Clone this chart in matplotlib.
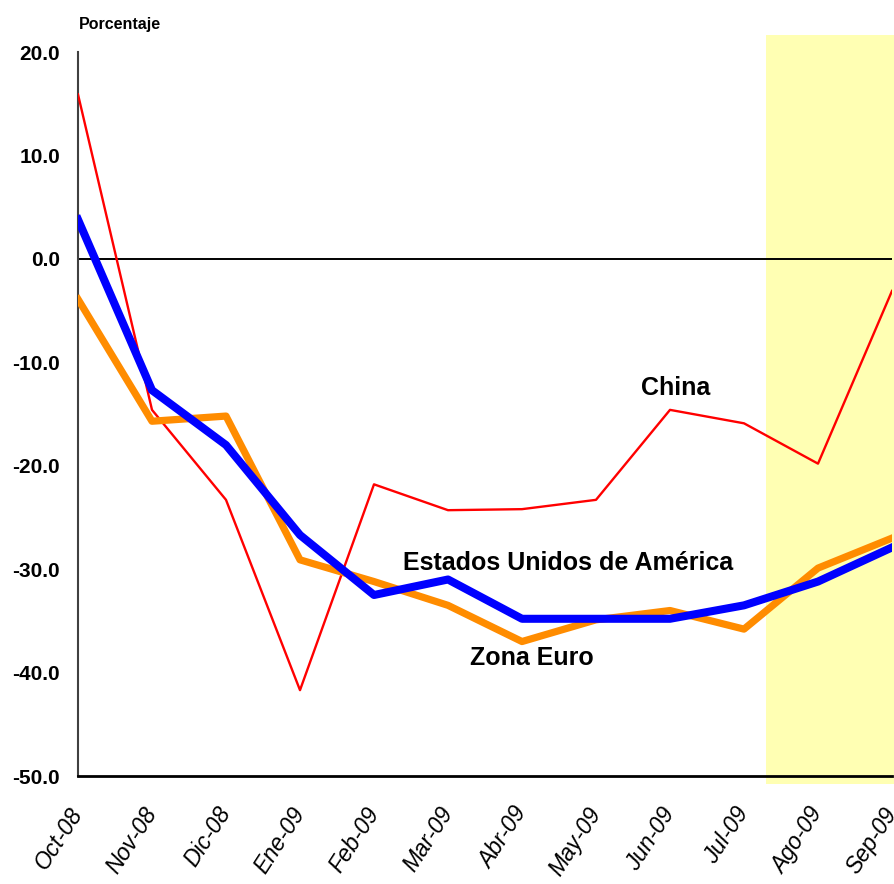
import matplotlib
matplotlib.use('Agg')
import matplotlib.pyplot as plt
from matplotlib.patches import Rectangle

# data (percent change)
meses = ['Oct-08', 'Nov-08', 'Dic-08', 'Ene-09', 'Feb-09', 'Mar-09',
         'Abr-09', 'May-09', 'Jun-09', 'Jul-09', 'Ago-09', 'Sep-09']
china = [15.9, -14.6, -23.3, -41.7, -21.8, -24.3, -24.2, -23.3, -14.6, -15.9, -19.8, -3.1]
eua = [3.8, -12.7, -18.0, -26.7, -32.5, -31.0, -34.8, -34.8, -34.8, -33.5, -31.2, -27.9]
euro = [-3.9, -15.7, -15.2, -29.1, -31.2, -33.5, -37.0, -34.9, -34.0, -35.8, -29.9, -27.0]
yticks = [20, 10, 0, -10, -20, -30, -40, -50]

fam = ['Liberation Sans Narrow', 'Liberation Sans', 'DejaVu Sans']
plt.rcParams['font.family'] = fam

fig = plt.figure(figsize=(8.94, 8.84), dpi=100)
ax = fig.add_axes([78 / 894, 1 - 776 / 884, 814 / 894, 724 / 884])

x = list(range(len(meses)))

# shaded (estimated) period, sticks out a bit past the axes
ax.add_patch(Rectangle((9.3, -50.8), 1.75, 72.4, facecolor='#ffffb3',
                       edgecolor='none', zorder=0, clip_on=False))

ax.axhline(0, color='black', lw=1.4, zorder=1)
ax.plot(x, china, color='#ff0000', lw=1.7, zorder=3)
ax.plot(x, euro, color='#ff8c00', lw=5.2, zorder=4)
ax.plot(x, eua, color='#0000ff', lw=5.8, zorder=5)

ax.set_xlim(0, 11)
ax.set_ylim(-50, 20)
ax.set_yticks(yticks)
ax.set_yticklabels([f'{v:.1f}' for v in yticks], fontsize=15, fontweight='bold')
ax.set_xticks(x)
ax.set_xticklabels(meses, rotation=57, ha='right', va='center', rotation_mode='anchor',
                   fontsize=16.5, style='italic')
ax.tick_params(axis='y', length=0, pad=13)
ax.tick_params(axis='x', length=0, pad=24)

for s in ['top', 'right']:
    ax.spines[s].set_visible(False)
ax.spines['left'].set_color('#404040')
ax.spines['left'].set_linewidth(1.5)
ax.spines['bottom'].set_color('black')
ax.spines['bottom'].set_linewidth(2)
ax.patch.set_alpha(0)

fig.text(79 / 894, 1 - 25 / 884, 'Porcentaje', fontsize=11.5, fontweight='bold',
         ha='left', va='center')

lbl = dict(fontsize=18, fontweight='bold', ha='center', va='center', zorder=6)
ax.text(8.08, -12.5, 'China', **lbl)
ax.text(6.62, -29.4, 'Estados Unidos de América', **lbl)
ax.text(6.14, -38.6, 'Zona Euro', **lbl)

fig.savefig('out.png', dpi=100)
